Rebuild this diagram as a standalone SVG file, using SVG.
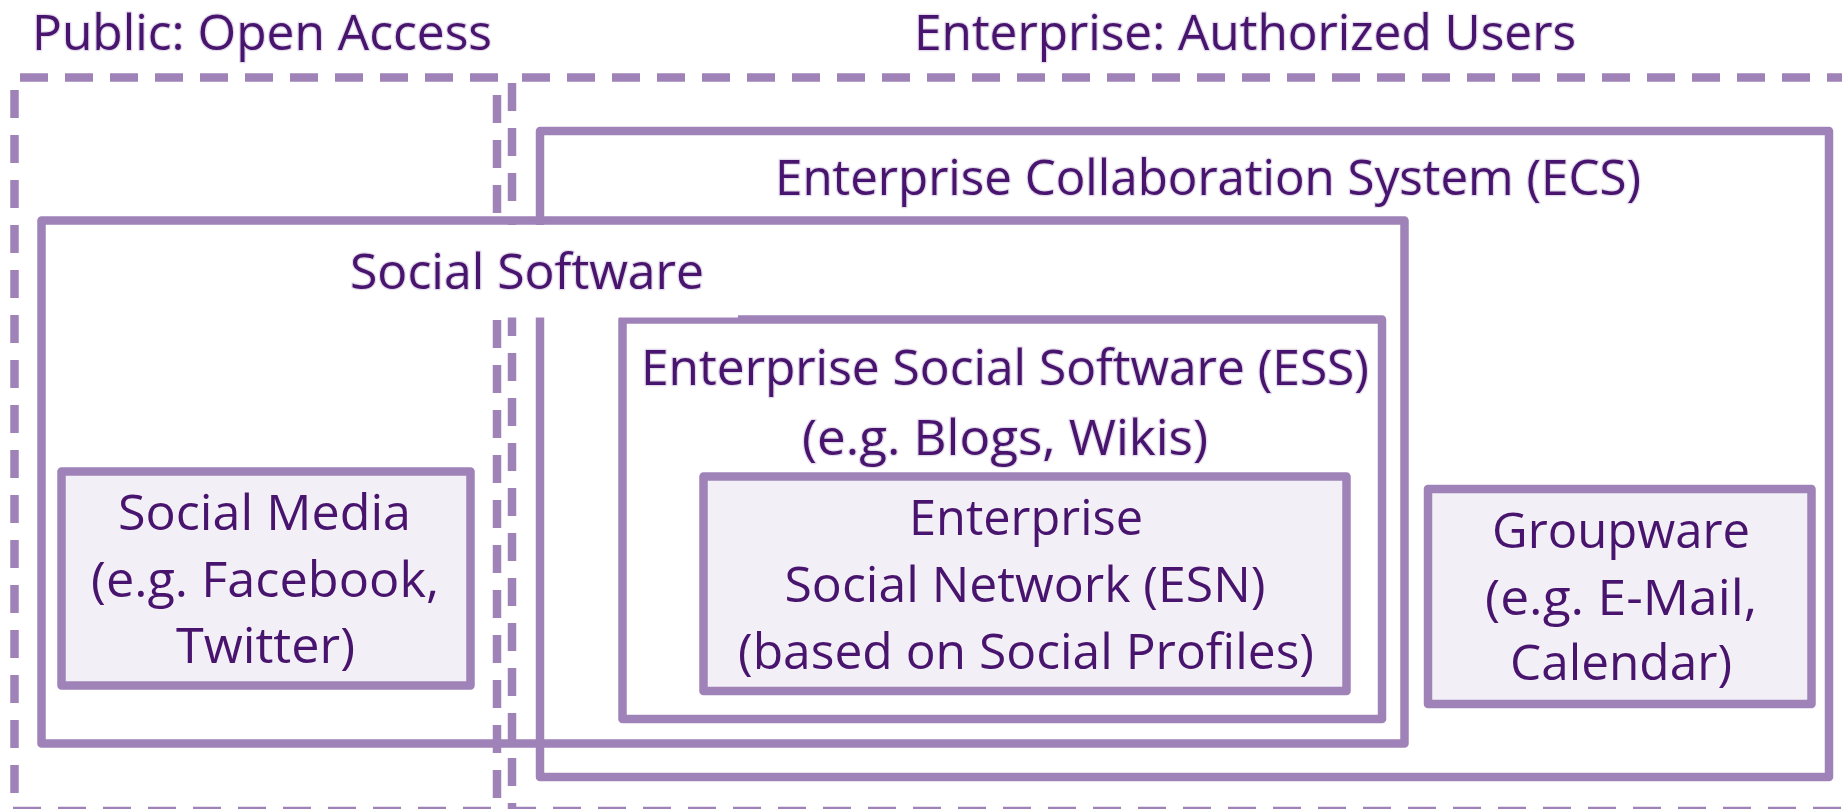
<svg xmlns="http://www.w3.org/2000/svg" width="1842" height="809" viewBox="0 0 1842 809">
<style>
  .dash{fill:none;stroke:#9F83B8;stroke-width:8.5;stroke-dasharray:28 17}
  .box{fill:none;stroke:#9F83B8;stroke-width:8.5;stroke-linejoin:round}
  .leaf{fill:#F2F0F6;stroke:#9F83B8;stroke-width:8.5;stroke-linejoin:round}
  text{font-family:"Open Sans","Liberation Sans",sans-serif;font-size:50px;fill:#48146E;text-anchor:middle}
  .halo{stroke:#e3dcea;stroke-width:2.5;paint-order:stroke;stroke-linejoin:round}
</style>
<rect width="1842" height="809" fill="#ffffff"/>

<g id="public-zone">
  <line class="dash" x1="20" y1="77.5" x2="500" y2="77.5"/>
  <line class="dash" x1="14.5" y1="90" x2="14.5" y2="809"/>
  <line class="dash" x1="497" y1="95" x2="497" y2="809"/>
  <line class="dash" x1="13" y1="811" x2="500" y2="811"/>
  <text class="halo" x="262" y="50" textLength="460" lengthAdjust="spacingAndGlyphs">Public: Open Access</text>
</g>

<g id="enterprise-zone">
  <line class="dash" x1="522" y1="77.5" x2="1842" y2="77.5"/>
  <line class="dash" x1="512" y1="83" x2="512" y2="809"/>
  <line class="dash" x1="508" y1="811" x2="1842" y2="811"/>
  <text class="halo" x="1245" y="50" textLength="662" lengthAdjust="spacingAndGlyphs">Enterprise: Authorized Users</text>
</g>

<g id="ecs">
  <rect class="box" x="540" y="131" width="1289" height="646"/>
  <text class="halo" x="1208" y="195" textLength="866" lengthAdjust="spacingAndGlyphs">Enterprise Collaboration System (ECS)</text>
</g>

<g id="ess">
  <rect class="box" x="622.5" y="319.5" width="759.5" height="399.5"/>
  <text class="halo" x="1005" y="385" textLength="728" lengthAdjust="spacingAndGlyphs">Enterprise Social Software (ESS)</text>
  <text class="halo" x="1005" y="455" textLength="406" lengthAdjust="spacingAndGlyphs">(e.g. Blogs, Wikis)</text>
</g>

<g id="social-software">
  <rect class="box" x="41.5" y="220.5" width="1363" height="523"/>
  <rect x="316" y="225" width="422" height="92.5" fill="#ffffff"/>
  <text class="halo" x="527" y="289" textLength="354" lengthAdjust="spacingAndGlyphs">Social Software</text>
</g>

<g id="esn">
  <rect class="leaf" x="703.5" y="476.5" width="643" height="214.5"/>
  <text x="1026" y="535" textLength="234" lengthAdjust="spacingAndGlyphs">Enterprise</text>
  <text x="1025" y="602" textLength="481" lengthAdjust="spacingAndGlyphs">Social Network (ESN)</text>
  <text x="1026" y="669" textLength="576" lengthAdjust="spacingAndGlyphs">(based on Social Profiles)</text>
</g>

<g id="social-media">
  <rect class="leaf" x="61.5" y="471.5" width="409" height="214"/>
  <text x="264.5" y="530" textLength="293" lengthAdjust="spacingAndGlyphs">Social Media</text>
  <text x="265" y="597" textLength="348" lengthAdjust="spacingAndGlyphs">(e.g. Facebook,</text>
  <text x="265.5" y="663" textLength="179" lengthAdjust="spacingAndGlyphs">Twitter)</text>
</g>

<g id="groupware">
  <rect class="leaf" x="1428" y="489" width="383.5" height="215"/>
  <text x="1621" y="548" textLength="258" lengthAdjust="spacingAndGlyphs">Groupware</text>
  <text x="1621" y="615" textLength="272" lengthAdjust="spacingAndGlyphs">(e.g. E-Mail,</text>
  <text x="1621" y="680" textLength="222" lengthAdjust="spacingAndGlyphs">Calendar)</text>
</g>

<g id="connectors"></g>
</svg>
